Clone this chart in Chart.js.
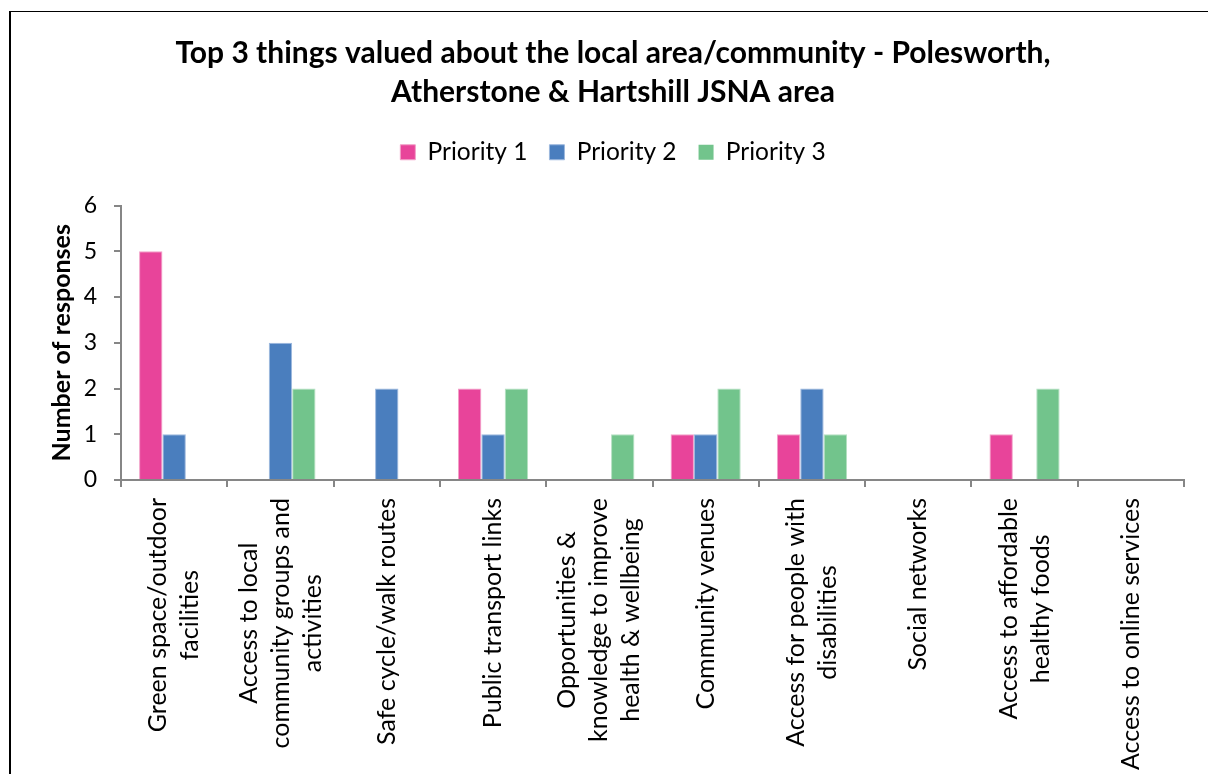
<!DOCTYPE html>
<html>
<head>
<meta charset="utf-8">
<script src="https://cdn.jsdelivr.net/npm/chart.js@4.4.1/dist/chart.umd.min.js"></script>
<style>
  html, body { margin: 0; padding: 0; background: #fff; overflow: hidden; }
  #frame { position: absolute; left: 9px; top: 11px; width: 1400px; height: 900px; border-top: 1.5px solid #000; border-left: 2px solid #000; }
  #wrap { position: absolute; left: 0; top: 0; width: 1208px; height: 774px; }
</style>
</head>
<body>
<div id="frame"></div>
<div id="wrap"><canvas id="chart" width="1208" height="774"></canvas></div>
<script>
// values
const categories = [
    ['Green space/outdoor', 'facilities'],
    ['Access to local', 'community groups and', 'activities'],
    ['Safe cycle/walk routes'],
    ['Public transport links'],
    ['Opportunities &', 'knowledge to improve', 'health & wellbeing'],
    ['Community venues'],
    ['Access for people with', 'disabilities'],
    ['Social networks'],
    ['Access to affordable', 'healthy foods'],
    ['Access to online services'],
];
const priority1 = [5, 0, 0, 2, 0, 1, 1, 0, 1, 0];
const priority2 = [1, 3, 2, 1, 0, 1, 2, 0, 0, 0];
const priority3 = [0, 2, 0, 2, 1, 2, 1, 0, 2, 0];
const yTicks = [0, 1, 2, 3, 4, 5, 6];

const FONT = 'Lato';
const axisGrey = '#868686';

// x labels are drawn centred per line (Excel style) at the category positions
const xLabelPlugin = {
    id: 'xLabels',
    afterInit(chart) {
        // leave a gap between the legend and the plot
        const fit = chart.legend.fit;
        chart.legend.fit = function () {
            fit.call(this);
            this.height += 31;
        };
    },
    afterLayout(chart) {
        // title and legend sit centred on the whole picture, not the padded box
        [chart.titleBlock, chart.legend].forEach(function (b) {
            b.left += 21;
            b.right += 21;
        });
    },
    afterDraw(chart) {
        const { ctx, scales: { x } } = chart;
        const lineH = 32;
        ctx.save();
        ctx.font = '25px ' + FONT;
        ctx.fillStyle = '#000';
        ctx.textAlign = 'center';
        ctx.textBaseline = 'middle';
        chart.data.labels.forEach(function (lines, i) {
            const px = x.getPixelForValue(i);
            const maxW = Math.max.apply(null, lines.map(l => ctx.measureText(l).width));
            ctx.save();
            ctx.translate(px, x.top + 18);
            ctx.rotate(-Math.PI / 2);
            lines.forEach(function (l, j) {
                ctx.fillText(l, -maxW / 2, (j - (lines.length - 1) / 2) * lineH);
            });
            ctx.restore();
        });
        ctx.restore();
    },
};

function dataset(label, data, fill, edge) {
    return {
        label,
        data,
        backgroundColor: fill,
        borderColor: edge,
        borderWidth: c => (c.raw ? 1 : 0),
        borderSkipped: 'bottom',
        barPercentage: 1,
        categoryPercentage: 0.66,
    };
}

new Chart(document.getElementById('chart'), {
    type: 'bar',
    data: {
        labels: categories,
        datasets: [
            dataset('Priority 1', priority1, '#E8449A', '#F2A0C8'),
            dataset('Priority 2', priority2, '#4A7EBE', '#9DB8DE'),
            dataset('Priority 3', priority3, '#72C48C', '#B5E0C2'),
        ],
    },
    options: {
        responsive: false,
        animation: false,
        devicePixelRatio: 1,
        layout: { padding: { top: 20, left: 0, right: 24, bottom: 0 } },
        plugins: {
            title: {
                display: true,
                text: ['Top 3 things valued about the local area/community - Polesworth,', 'Atherstone & Hartshill JSNA area'],
                color: '#000',
                font: { family: FONT, size: 30, weight: 'bold', lineHeight: '39px' },
                padding: { top: 14, bottom: 6 },
            },
            legend: {
                display: true,
                position: 'top',
                labels: {
                    color: '#000',
                    font: { family: FONT, size: 24.5 },
                    boxWidth: 15,
                    boxHeight: 15,
                    padding: 22,
                },
            },
            tooltip: { enabled: false },
        },
        scales: {
            x: {
                ticks: { display: false },
                grid: { drawOnChartArea: false, drawTicks: true, tickLength: 7, color: axisGrey, lineWidth: 2 },
                border: { display: true, color: axisGrey, width: 2 },
                afterFit(scale) { scale.height = 294; },
            },
            y: {
                min: 0,
                max: 6,
                afterBuildTicks(scale) { scale.ticks = yTicks.map(v => ({ value: v })); },
                ticks: { color: '#000', font: { family: FONT, size: 23 }, padding: 17 },
                grid: { drawOnChartArea: false, drawTicks: true, tickLength: 7, color: axisGrey, lineWidth: 2 },
                border: { display: true, color: axisGrey, width: 2 },
                title: {
                    display: true,
                    text: 'Number of responses',
                    color: '#000',
                    font: { family: FONT, size: 25, weight: 'bold' },
                    padding: { top: 47, bottom: 0 },
                },
                afterFit(scale) { scale.width = 121; },
            },
        },
    },
    plugins: [xLabelPlugin],
});
</script>
</body>
</html>
